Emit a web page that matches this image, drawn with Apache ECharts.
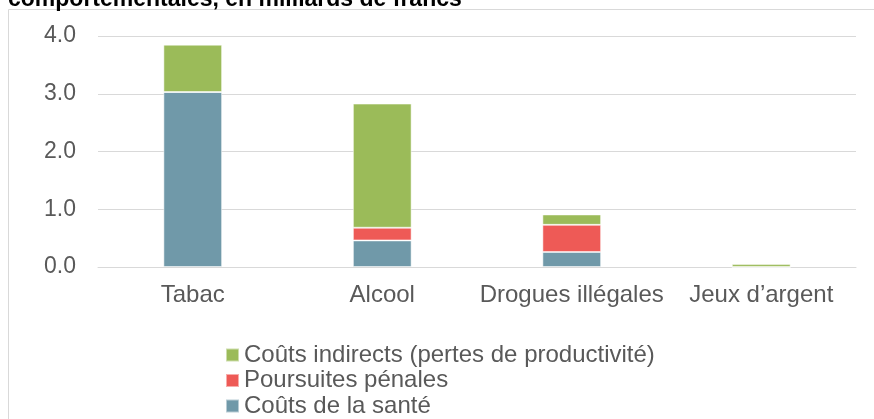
<!DOCTYPE html>
<html>
<head>
<meta charset="utf-8">
<script src="https://cdn.jsdelivr.net/npm/echarts@6/dist/echarts.min.js"></script>
<style>
  html, body { margin: 0; padding: 0; background: #fff; }
  #chart { width: 874px; height: 419px; }
</style>
</head>
<body>
<div id="chart"></div>
<script>
// données (milliards de francs)
const categories = ['Tabac', 'Alcool', 'Drogues illégales', 'Jeux d\u2019argent']
const santeCosts = [3.03, 0.46, 0.26, 0]
const penalCosts = [0, 0.22, 0.47, 0]
const indirectCosts = [0.82, 2.15, 0.18, 0.05]
const yTicks = [0, 1, 2, 3, 4]

const font = 'Liberation Sans, Arial, sans-serif'
const textColor = '#595959'

const chart = echarts.init(document.getElementById('chart'))

const barStyle = color => ({
  color: color,
  borderColor: 'rgba(255,255,255,0.5)',
  borderWidth: 1
})

chart.setOption({
  animation: false,
  title: {
    text: 'comportementales, en milliards de francs',
    left: 3,
    top: -17,
    textStyle: { fontFamily: font, fontSize: 23, fontWeight: 'bold', color: '#000' }
  },
  graphic: [{
    type: 'rect',
    shape: { x: 8.5, y: 9.5, width: 900, height: 500 },
    style: { fill: 'none', stroke: '#d9d9d9', lineWidth: 1 },
    silent: true
  }],
  grid: { left: 98, right: 18, top: 36, bottom: 152 },
  legend: {
    orient: 'vertical',
    left: 225,
    top: 343,
    padding: 0,
    itemWidth: 13,
    itemHeight: 13,
    itemGap: 1.5,
    icon: 'rect',
    data: ['Coûts indirects (pertes de productivité)', 'Poursuites pénales', 'Coûts de la santé'],
    textStyle: { fontFamily: font, fontSize: 24, lineHeight: 24, color: textColor }
  },
  xAxis: {
    type: 'category',
    data: categories,
    axisLine: { lineStyle: { color: '#d9d9d9', width: 1 } },
    axisTick: { show: false },
    axisLabel: { interval: 0, fontFamily: font, fontSize: 24, color: textColor, margin: 16 }
  },
  yAxis: {
    type: 'value',
    min: yTicks[0],
    max: yTicks[yTicks.length - 1],
    interval: 1,
    axisLine: { show: false },
    axisTick: { show: false },
    splitLine: { lineStyle: { color: '#d9d9d9', width: 1 } },
    axisLabel: {
      fontFamily: font, fontSize: 23, color: textColor, margin: 22,
      formatter: v => v.toFixed(1)
    }
  },
  series: [{
    name: 'Coûts de la santé',
    type: 'bar',
    stack: 'couts',
    barWidth: '31%',
    data: santeCosts,
    itemStyle: barStyle('#7099a9')
  }, {
    name: 'Poursuites pénales',
    type: 'bar',
    stack: 'couts',
    barWidth: '31%',
    data: penalCosts,
    itemStyle: barStyle('#ee5a56')
  }, {
    name: 'Coûts indirects (pertes de productivité)',
    type: 'bar',
    stack: 'couts',
    barWidth: '31%',
    data: indirectCosts,
    itemStyle: barStyle('#9bbb59')
  }]
})
</script>
</body>
</html>
